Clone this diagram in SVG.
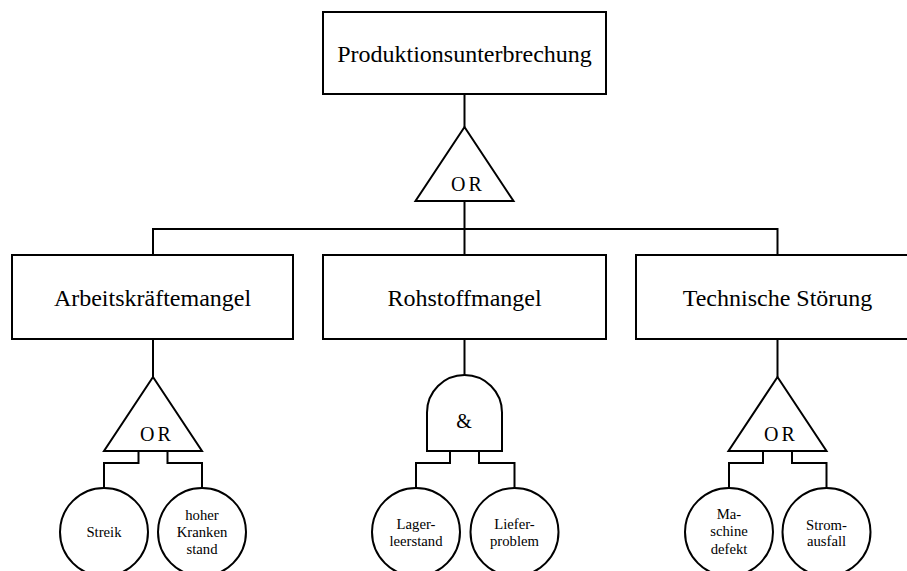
<svg xmlns="http://www.w3.org/2000/svg" width="907" height="571" viewBox="0 0 907 571">
  <style>
    .shape { fill: #fff; stroke: #000; stroke-width: 2; }
    .wire { fill: none; stroke: #000; stroke-width: 2; }
    .lbl { font-family: "Liberation Serif", "Times New Roman", Times, Tinos, "Noto Serif", "DejaVu Serif", serif; fill: #000; text-anchor: middle; }
    .big { font-size: 24px; }
    .gate { font-size: 20px; }
    .or { font-size: 20px; letter-spacing: 3px; }
    .small { font-size: 14.7px; }
  </style>
  <rect width="907" height="571" fill="#fff"/>

  <!-- connectors -->
  <g id="connectors" class="wire">
    <line x1="464.5" y1="94" x2="464.5" y2="127"/>
    <line x1="464.5" y1="201" x2="464.5" y2="229"/>
    <polyline points="153,255 153,229 777.5,229 777.5,255"/>
    <line x1="464.5" y1="229" x2="464.5" y2="255"/>
    <line x1="153" y1="339" x2="153" y2="377"/>
    <line x1="464.5" y1="339" x2="464.5" y2="375"/>
    <line x1="777.5" y1="339" x2="777.5" y2="377"/>
    <polyline points="138.5,451 138.5,463 104,463 104,488"/>
    <polyline points="167.5,451 167.5,463 202,463 202,488"/>
    <polyline points="450,451 450,463 416,463 416,488"/>
    <polyline points="479,451 479,463 514.5,463 514.5,488"/>
    <polyline points="763,451 763,463 729,463 729,488"/>
    <polyline points="792,451 792,463 826.5,463 826.5,488"/>
  </g>

  <!-- top event -->
  <g id="top-event">
    <rect class="shape" x="323" y="12" width="283" height="82"/>
    <text class="lbl big" x="464.5" y="62">Produktionsunterbrechung</text>
  </g>
  <g id="gate-top">
    <polygon class="shape" points="464.5,127 513.5,201 415.5,201"/>
    <text class="lbl or" x="468" y="191">OR</text>
  </g>

  <!-- intermediate events -->
  <g id="arbeitskraeftemangel">
    <rect class="shape" x="12" y="255" width="281" height="84"/>
    <text class="lbl big" x="152.5" y="306">Arbeitskräftemangel</text>
  </g>
  <g id="rohstoffmangel">
    <rect class="shape" x="323" y="255" width="283" height="84"/>
    <text class="lbl big" x="464.5" y="306">Rohstoffmangel</text>
  </g>
  <g id="technische-stoerung">
    <rect class="shape" x="636" y="255" width="284" height="84"/>
    <text class="lbl big" x="777.5" y="306">Technische Störung</text>
  </g>

  <!-- gates -->
  <g id="gate-arbeit">
    <polygon class="shape" points="153,377 202,451 104,451"/>
    <text class="lbl or" x="157" y="441">OR</text>
  </g>
  <g id="gate-rohstoff">
    <path class="shape" d="M427,451 L427,412.5 A37.5,37.5 0 0 1 502,412.5 L502,451 Z"/>
    <text class="lbl gate" x="464" y="427.5">&amp;</text>
  </g>
  <g id="gate-technik">
    <polygon class="shape" points="777.5,377 826.5,451 728.5,451"/>
    <text class="lbl or" x="781" y="441">OR</text>
  </g>

  <!-- basic events -->
  <g id="streik">
    <circle class="shape" cx="104" cy="532" r="44"/>
    <text class="lbl small" x="104" y="537">Streik</text>
  </g>
  <g id="krankenstand">
    <circle class="shape" cx="202" cy="532" r="44"/>
    <text class="lbl small" x="202" y="520">hoher</text>
    <text class="lbl small" x="202" y="537">Kranken</text>
    <text class="lbl small" x="202" y="554">stand</text>
  </g>
  <g id="lagerleerstand">
    <circle class="shape" cx="416" cy="532" r="44"/>
    <text class="lbl small" x="416" y="529">Lager-</text>
    <text class="lbl small" x="416" y="546">leerstand</text>
  </g>
  <g id="lieferproblem">
    <circle class="shape" cx="514.5" cy="532" r="44"/>
    <text class="lbl small" x="514.5" y="529">Liefer-</text>
    <text class="lbl small" x="514.5" y="546">problem</text>
  </g>
  <g id="maschinendefekt">
    <circle class="shape" cx="729" cy="532" r="44"/>
    <text class="lbl small" x="729" y="519">Ma-</text>
    <text class="lbl small" x="729" y="536">schine</text>
    <text class="lbl small" x="729" y="554">defekt</text>
  </g>
  <g id="stromausfall">
    <circle class="shape" cx="826.5" cy="532" r="44"/>
    <text class="lbl small" x="826.5" y="530">Strom-</text>
    <text class="lbl small" x="826.5" y="546">ausfall</text>
  </g>
</svg>
